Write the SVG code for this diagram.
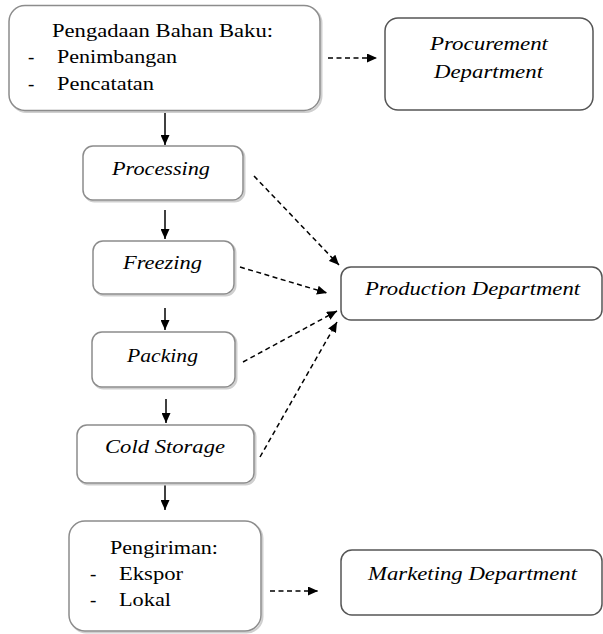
<svg xmlns="http://www.w3.org/2000/svg" width="603" height="634" viewBox="0 0 603 634">
<defs>
<marker id="ah" markerWidth="11" markerHeight="9" refX="10" refY="4.5" orient="auto" markerUnits="userSpaceOnUse">
<path d="M0,0 L10,4.5 L0,9 z" fill="#000"/>
</marker>
<style>
text{font-family:'Liberation Serif',serif !important;font-size:19px;fill:#000}
.i{font-style:italic}
.sh{fill:none;stroke:#cfcfcf;stroke-width:2}
.bx{fill:#fff;stroke:#8c8c8c;stroke-width:1.5}
.dp{fill:#fff;stroke:#555;stroke-width:1.5}
.sa{stroke:#000;stroke-width:1.5;fill:none}
.da{stroke:#000;stroke-width:1.5;fill:none;stroke-dasharray:5,3.5}
</style>
</defs>
<rect width="603" height="634" fill="#fff"/>

<g id="connectors">
<line class="sa" x1="165" y1="112" x2="165" y2="145" marker-end="url(#ah)"/>
<line class="sa" x1="165" y1="210" x2="165" y2="239" marker-end="url(#ah)"/>
<line class="sa" x1="165" y1="308" x2="165" y2="330" marker-end="url(#ah)"/>
<line class="sa" x1="166" y1="399" x2="166" y2="423" marker-end="url(#ah)"/>
<line class="sa" x1="165" y1="485" x2="165" y2="510" marker-end="url(#ah)"/>
<line class="da" x1="328" y1="58" x2="377" y2="58" marker-end="url(#ah)"/>
<line class="da" x1="254" y1="176" x2="339" y2="265" marker-end="url(#ah)"/>
<line class="da" x1="240" y1="267" x2="327" y2="293" marker-end="url(#ah)"/>
<line class="da" x1="243" y1="362" x2="337" y2="311" marker-end="url(#ah)"/>
<line class="da" x1="260" y1="457" x2="337" y2="322" marker-end="url(#ah)"/>
<line class="da" x1="270" y1="591" x2="318" y2="591" marker-end="url(#ah)"/>
</g>

<g id="pengadaan">
<rect class="sh" x="10.5" y="7" width="311" height="105" rx="16"/>
<rect class="bx" x="9" y="5.5" width="311" height="105" rx="16"/>
<text font-family="Liberation Serif" style="font-family:'Liberation Serif'" x="52" y="37" textLength="221" lengthAdjust="spacingAndGlyphs">Pengadaan Bahan Baku:</text>
<text font-family="Liberation Serif" style="font-family:'Liberation Serif'" x="28" y="63">-</text>
<text font-family="Liberation Serif" style="font-family:'Liberation Serif'" x="57" y="63" textLength="120" lengthAdjust="spacingAndGlyphs">Penimbangan</text>
<text font-family="Liberation Serif" style="font-family:'Liberation Serif'" x="28" y="90">-</text>
<text font-family="Liberation Serif" style="font-family:'Liberation Serif'" x="57" y="90" textLength="97" lengthAdjust="spacingAndGlyphs">Pencatatan</text>
</g>

<g id="procurement">
<rect class="dp" x="385" y="18" width="208" height="92" rx="13"/>
<text class="i" font-family="Liberation Serif" style="font-family:'Liberation Serif'" x="430" y="50" textLength="118" lengthAdjust="spacingAndGlyphs">Procurement</text>
<text class="i" font-family="Liberation Serif" style="font-family:'Liberation Serif'" x="434" y="78" textLength="109" lengthAdjust="spacingAndGlyphs">Department</text>
</g>

<g id="processing">
<rect class="sh" x="84.5" y="147.5" width="160" height="54" rx="10"/>
<rect class="bx" x="83" y="146" width="160" height="54" rx="10"/>
<text class="i" font-family="Liberation Serif" style="font-family:'Liberation Serif'" x="112" y="175" textLength="98" lengthAdjust="spacingAndGlyphs">Processing</text>
</g>

<g id="freezing">
<rect class="sh" x="94.5" y="242.5" width="141" height="53" rx="10"/>
<rect class="bx" x="93" y="241" width="141" height="53" rx="10"/>
<text class="i" font-family="Liberation Serif" style="font-family:'Liberation Serif'" x="123" y="269" textLength="79" lengthAdjust="spacingAndGlyphs">Freezing</text>
</g>

<g id="packing">
<rect class="sh" x="93.5" y="333.5" width="143" height="55" rx="10"/>
<rect class="bx" x="92" y="332" width="143" height="55" rx="10"/>
<text class="i" font-family="Liberation Serif" style="font-family:'Liberation Serif'" x="127" y="362" textLength="71" lengthAdjust="spacingAndGlyphs">Packing</text>
</g>

<g id="coldstorage">
<rect class="sh" x="78.5" y="426.5" width="177" height="58" rx="10"/>
<rect class="bx" x="77" y="425" width="177" height="58" rx="10"/>
<text class="i" font-family="Liberation Serif" style="font-family:'Liberation Serif'" x="105" y="453" textLength="120" lengthAdjust="spacingAndGlyphs">Cold Storage</text>
</g>

<g id="production">
<rect class="dp" x="341" y="267" width="261" height="53" rx="10"/>
<text class="i" font-family="Liberation Serif" style="font-family:'Liberation Serif'" x="365" y="295" textLength="215" lengthAdjust="spacingAndGlyphs">Production Department</text>
</g>

<g id="pengiriman">
<rect class="sh" x="70.5" y="522.5" width="192" height="110" rx="16"/>
<rect class="bx" x="69" y="521" width="192" height="110" rx="16"/>
<text font-family="Liberation Serif" style="font-family:'Liberation Serif'" x="110" y="554" textLength="108" lengthAdjust="spacingAndGlyphs">Pengiriman:</text>
<text font-family="Liberation Serif" style="font-family:'Liberation Serif'" x="90" y="580">-</text>
<text font-family="Liberation Serif" style="font-family:'Liberation Serif'" x="119" y="580" textLength="64" lengthAdjust="spacingAndGlyphs">Ekspor</text>
<text font-family="Liberation Serif" style="font-family:'Liberation Serif'" x="90" y="606">-</text>
<text font-family="Liberation Serif" style="font-family:'Liberation Serif'" x="119" y="606" textLength="52" lengthAdjust="spacingAndGlyphs">Lokal</text>
</g>

<g id="marketing">
<rect class="dp" x="341" y="550" width="261" height="65" rx="11"/>
<text class="i" font-family="Liberation Serif" style="font-family:'Liberation Serif'" x="368" y="580" textLength="209" lengthAdjust="spacingAndGlyphs">Marketing Department</text>
</g>
</svg>
